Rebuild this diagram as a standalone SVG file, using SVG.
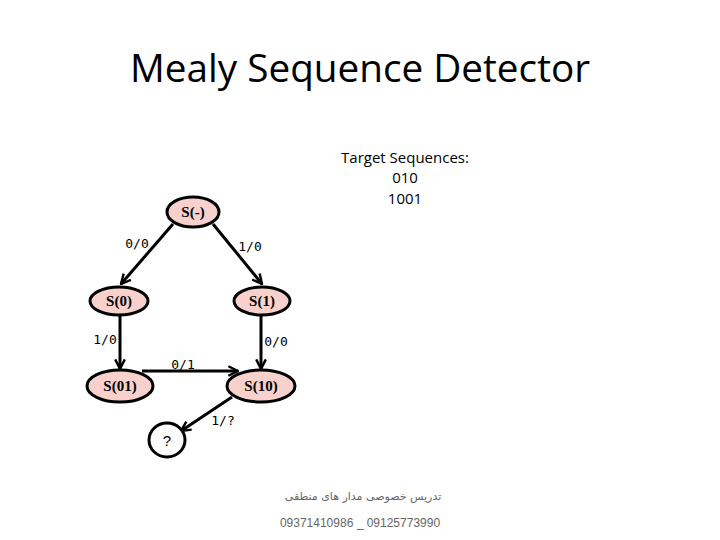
<svg xmlns="http://www.w3.org/2000/svg" width="720" height="540" viewBox="0 0 720 540">
<style>
.node{fill:#f8d0cc;stroke:#000;stroke-width:3}
.nl{font-family:"Liberation Serif",serif;font-size:15px;text-anchor:middle;fill:#000;font-weight:bold}
.el{font-family:"DejaVu Sans Mono",monospace;font-size:13px;text-anchor:middle;fill:#000}
.edge{stroke:#000;stroke-width:3;fill:none;marker-end:url(#arr)}
</style>
<defs>
<marker id="arr" viewBox="0 0 10 10" refX="9" refY="5" markerWidth="4" markerHeight="4" orient="auto" markerUnits="strokeWidth">
<path d="M1,1 L9,5 L1,9" fill="none" stroke="#000" stroke-width="2"/>
</marker>
</defs>
<rect width="720" height="540" fill="#fff"/>
<text x="360" y="82" font-family="'Open Sans',sans-serif" font-size="39" text-anchor="middle" textLength="460" lengthAdjust="spacingAndGlyphs">Mealy Sequence Detector</text>
<g font-family="'Open Sans',sans-serif" font-size="15" text-anchor="middle">
<text x="405" y="163">Target Sequences:</text>
<text x="405" y="183">010</text>
<text x="405" y="204">1001</text>
</g>
<g id="connectors">
<line class="edge" x1="173" y1="224" x2="121" y2="284"/>
<line class="edge" x1="213" y1="224" x2="262" y2="284"/>
<line class="edge" x1="120" y1="315" x2="120" y2="369"/>
<line class="edge" x1="261" y1="315" x2="261" y2="369"/>
<line class="edge" x1="142" y1="371" x2="238" y2="371"/>
<line class="edge" x1="232" y1="397" x2="181" y2="431"/>
<text class="el" x="137" y="248">0/0</text>
<text class="el" x="250" y="251">1/0</text>
<text class="el" x="105" y="344">1/0</text>
<text class="el" x="276" y="346">0/0</text>
<text class="el" x="183" y="369">0/1</text>
<text class="el" x="223" y="425">1/?</text>
</g>
<g id="n-s"><ellipse class="node" cx="193" cy="212" rx="26" ry="15"/><text class="nl" x="193" y="217">S(-)</text></g>
<g id="n-s0"><ellipse class="node" cx="119" cy="301" rx="29" ry="14"/><text class="nl" x="119" y="306">S(0)</text></g>
<g id="n-s1"><ellipse class="node" cx="262" cy="301" rx="28" ry="14"/><text class="nl" x="262" y="306">S(1)</text></g>
<g id="n-s01"><ellipse class="node" cx="120" cy="386" rx="33" ry="16"/><text class="nl" x="120" y="391">S(01)</text></g>
<g id="n-s10"><ellipse class="node" cx="261" cy="386" rx="34" ry="16"/><text class="nl" x="261" y="391">S(10)</text></g>
<g id="n-q"><ellipse cx="167" cy="440" rx="18" ry="17" fill="#fff" stroke="#000" stroke-width="3"/><text x="167" y="446" font-family="'Liberation Sans',sans-serif" font-size="15" text-anchor="middle">?</text></g>
<g fill="#666" text-anchor="middle">
<text x="363" y="500" font-family="'DejaVu Sans',sans-serif" font-size="11" direction="rtl">تدریس خصوصی مدار های منطقی</text>
<text x="360" y="527" font-family="'Liberation Sans',sans-serif" font-size="12">09371410986 _ 09125773990</text>
</g>
</svg>
